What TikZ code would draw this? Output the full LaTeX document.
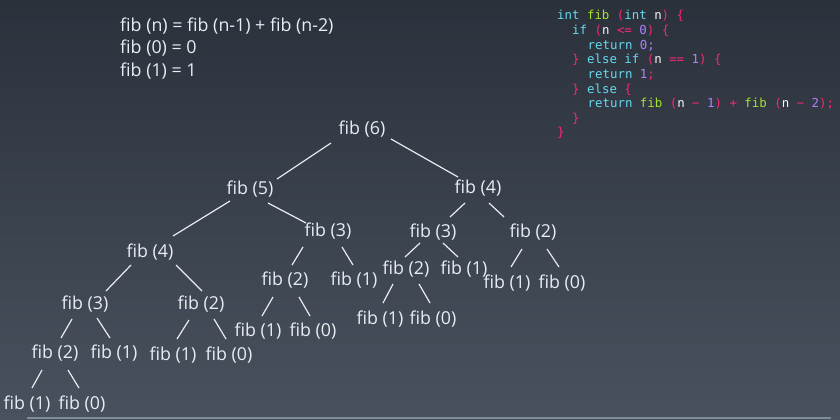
\documentclass[tikz,border=0pt]{standalone}
\usepackage{fontspec}
\setmainfont{Open Sans}
\newfontfamily\codefont{DejaVu Sans Mono}
\usetikzlibrary{calc}
\definecolor{bgtop}{HTML}{2B313B}
\definecolor{bgbot}{HTML}{48525E}
\definecolor{txt}{HTML}{E6EDF4}
\definecolor{edgec}{HTML}{E8ECF0}
\definecolor{rulec}{HTML}{7F8C99}
\definecolor{mkw}{HTML}{66D9EF}
\definecolor{mfn}{HTML}{A6E22E}
\definecolor{mpu}{HTML}{F92672}
\definecolor{mnu}{HTML}{AE81FF}
\definecolor{mid}{HTML}{F8F8F2}
\newcommand\ckw[1]{\textcolor{mkw}{#1}}
\newcommand\cfn[1]{\textcolor{mfn}{#1}}
\newcommand\cpu[1]{\textcolor{mpu}{#1}}
\newcommand\cnu[1]{\textcolor{mnu}{#1}}
\newcommand\tedge[4]{\draw[treeedge] ($(#1)+(#2)$) -- ($(#3)+(#4)$);}
\tikzset{
  fibnode/.style={inner sep=0pt, text=txt, font=\fontsize{17.8}{21}\selectfont},
  formula/.style={inner sep=0pt, anchor=west, text=txt, font=\fontsize{17.8}{21}\selectfont},
  codeline/.style={inner sep=0pt, anchor=base west, text=mid, font=\codefont\fontsize{12.4}{14}\selectfont},
  treeedge/.style={draw=edgec, line width=1.2pt}
}
\begin{document}
\begin{tikzpicture}[x=1pt,y=-1pt]
\useasboundingbox (0,0) rectangle (840,420);
\shade[top color=bgtop, bottom color=bgbot] (0,0) rectangle (840,420);
\coordinate (rl) at (27,418);
\coordinate (rr) at (831,418);
\draw[rulec, line width=1.5pt] (rl) -- (rr);

% formulas
\node[formula] (f1) at (120,26) {fib (n) = fib (n-1) + fib (n-2)};
\node[formula] (f2) at (120,48) {fib (0) = 0};
\node[formula] (f3) at (120,71) {fib (1) = 1};

% code
\node[codeline] (c1) at (557,20) {\ckw{int} \cfn{fib} \cpu{(}\ckw{int} n\cpu{)} \cpu{\{}};
\node[codeline] (c2) at (572,34.6) {\ckw{if} \cpu{(}n \cpu{<=} \cnu{0}\cpu{)} \cpu{\{}};
\node[codeline] (c3) at (587.5,49.2) {\ckw{return} \cnu{0;}};
\node[codeline] (c4) at (572,63.8) {\cpu{\}} \ckw{else if} \cpu{(}n \cpu{==} \cnu{1}\cpu{)} \cpu{\{}};
\node[codeline] (c5) at (587.5,78.4) {\ckw{return} \cnu{1}\cpu{;}};
\node[codeline] (c6) at (572,93) {\cpu{\}} \ckw{else} \cpu{\{}};
\node[codeline] (c7) at (587.5,107.6) {\ckw{return} \cfn{fib} \cpu{(}n \cpu{−} \cnu{1}\cpu{)} \cpu{+} \cfn{fib} \cpu{(}n \cpu{−} \cnu{2}\cpu{);}};
\node[codeline] (c8) at (572,122.2) {\cpu{\}}};
\node[codeline] (c9) at (557,136.8) {\cpu{\}}};

% tree nodes
\node[fibnode] (n6) at (362,129) {fib (6)};
\node[fibnode] (n5) at (250,189) {fib (5)};
\node[fibnode] (n4r) at (478,188) {fib (4)};
\node[fibnode] (n4l) at (150,252) {fib (4)};
\node[fibnode] (n3m) at (328,231) {fib (3)};
\node[fibnode] (n3r) at (433,232) {fib (3)};
\node[fibnode] (n2rr) at (533,232) {fib (2)};
\node[fibnode] (n3l) at (85,304) {fib (3)};
\node[fibnode] (n2l) at (201,304) {fib (2)};
\node[fibnode] (n2m) at (285,280) {fib (2)};
\node[fibnode] (n1m) at (354,280) {fib (1)};
\node[fibnode] (n2r) at (406,269) {fib (2)};
\node[fibnode] (n1r) at (464,269) {fib (1)};
\node[fibnode] (n1rr) at (507,283) {fib (1)};
\node[fibnode] (n0rr) at (562,283) {fib (0)};
\node[fibnode] (n2ll) at (55,353) {fib (2)};
\node[fibnode] (n1ll) at (114,353) {fib (1)};
\node[fibnode] (n1l) at (173,355) {fib (1)};
\node[fibnode] (n0l) at (229,355) {fib (0)};
\node[fibnode] (n1m2) at (258,331) {fib (1)};
\node[fibnode] (n0m2) at (313,331) {fib (0)};
\node[fibnode] (n1r2) at (380,319) {fib (1)};
\node[fibnode] (n0r2) at (433,319) {fib (0)};
\node[fibnode] (n1b) at (27,404) {fib (1)};
\node[fibnode] (n0b) at (82,404) {fib (0)};

% edges
\tedge{n6}{-31,14}{n5}{27,-10}
\tedge{n6}{29,10}{n4r}{-20,-11}
\tedge{n5}{-20,12}{n4l}{23,-16}
\tedge{n5}{18,14}{n3m}{-22,-8}
\tedge{n4r}{-13,15}{n3r}{17,-15}
\tedge{n4r}{11,15}{n2rr}{-29,-15}
\tedge{n4l}{-19,13}{n3l}{21,-13}
\tedge{n4l}{26,13}{n2l}{1,-13}
\tedge{n3m}{-25,16}{n2m}{7,-15}
\tedge{n3m}{14,16}{n1m}{-1,-15}
\tedge{n3r}{-13,11}{n2r}{-1,-12}
\tedge{n3r}{10,11}{n1r}{-6,-12}
\tedge{n2rr}{-11,17}{n1rr}{4,-16}
\tedge{n2rr}{14,17}{n0rr}{-3,-16}
\tedge{n3l}{-13,15}{n2ll}{6,-15}
\tedge{n3l}{12,14}{n1ll}{-4,-15}
\tedge{n2l}{-12,16}{n1l}{4,-16}
\tedge{n2l}{13,15}{n0l}{-3,-16}
\tedge{n2m}{-12,17}{n1m2}{4,-15}
\tedge{n2m}{14,17}{n0m2}{-3,-15}
\tedge{n2r}{-13,15}{n1r2}{3,-16}
\tedge{n2r}{13,15}{n0r2}{-3,-16}
\tedge{n2ll}{-13,17}{n1b}{5,-16}
\tedge{n2ll}{13,17}{n0b}{-3,-16}
\end{tikzpicture}
\end{document}
